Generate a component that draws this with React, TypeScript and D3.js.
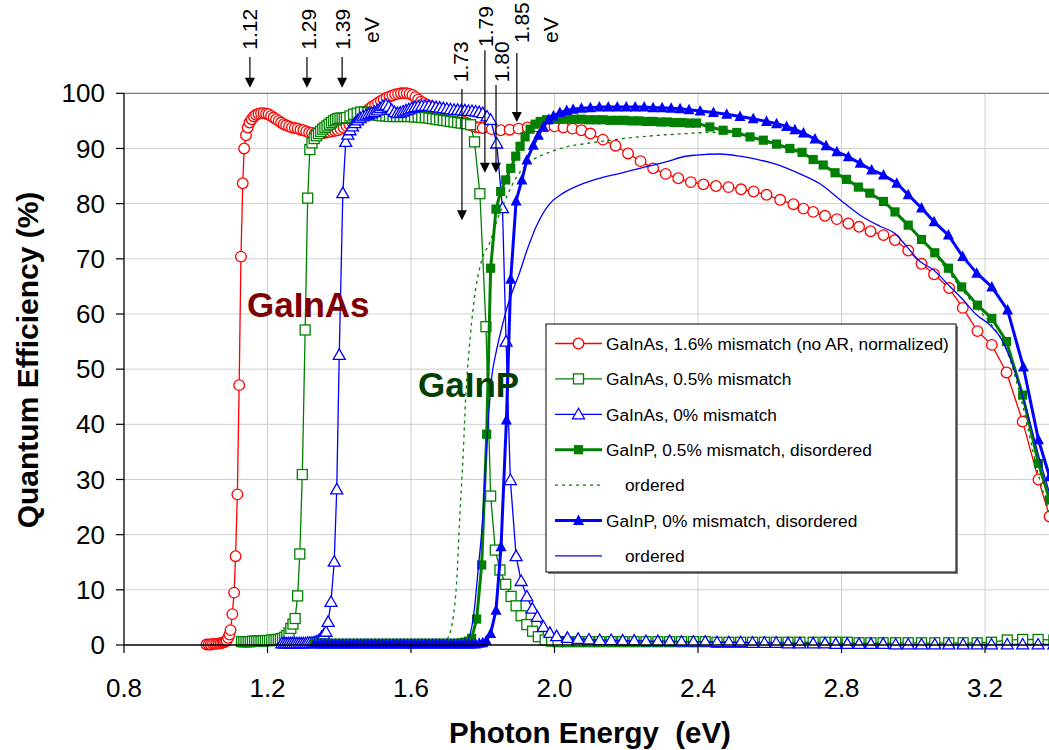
import React from 'react';
import * as d3 from 'd3';

type P = [number, number];

// ---------- DATA ----------
const xTickValues = [0.8, 1.2, 1.6, 2.0, 2.4, 2.8, 3.2];
const xTickLabels = ['0.8', '1.2', '1.6', '2.0', '2.4', '2.8', '3.2'];
const yTickValues = [0, 10, 20, 30, 40, 50, 60, 70, 80, 90, 100];

const gaInAs16: P[] = [
  [1.030,0.1],[1.036,0.1],[1.042,0.1],[1.048,0.2],[1.054,0.2],[1.059,0.2],[1.064,0.3],[1.069,0.3],[1.074,0.4],[1.078,0.5],
  [1.082,0.6],[1.086,0.8],[1.090,1.3],[1.094,1.9],[1.097,2.7],[1.102,5.6],[1.107,9.5],[1.111,16.1],[1.116,27.3],[1.121,47.1],
  [1.126,70.4],[1.131,83.7],[1.135,90.0],[1.140,92.4],[1.145,93.8],[1.150,94.7],[1.156,95.3],[1.162,95.8],[1.168,96.1],[1.175,96.3],
  [1.182,96.4],[1.189,96.4],[1.196,96.3],[1.203,96.2],[1.210,95.9],[1.217,95.6],[1.224,95.3],[1.231,95.0],[1.238,94.7],[1.245,94.4],
  [1.252,94.2],[1.260,94.0],[1.268,93.8],[1.276,93.7],[1.284,93.6],[1.292,93.4],[1.300,93.3],[1.308,93.1],[1.316,92.9],[1.324,92.8],
  [1.332,92.7],[1.340,92.7],[1.348,92.7],[1.356,92.8],[1.364,92.9],[1.372,93.0],[1.380,93.1],[1.388,93.2],[1.396,93.3],[1.404,93.5],
  [1.412,93.8],[1.420,94.1],[1.428,94.4],[1.436,94.8],[1.444,95.1],[1.452,95.5],[1.460,95.9],[1.468,96.4],[1.476,96.8],[1.484,97.2],
  [1.492,97.6],[1.500,97.9],[1.508,98.3],[1.516,98.6],[1.524,98.9],[1.532,99.2],[1.540,99.4],[1.548,99.6],[1.556,99.8],[1.564,99.9],
  [1.572,100.0],[1.580,100.0],[1.588,100.0],[1.596,99.9],[1.604,99.7],[1.612,99.3],[1.620,98.9],[1.628,98.5],[1.636,98.2],[1.644,97.9],
  [1.652,97.7],[1.660,97.5],[1.670,97.3],[1.680,97.1],[1.690,96.9],[1.700,96.6],[1.710,96.3],[1.720,96.0],[1.730,95.6],[1.740,95.2],
  [1.750,94.8],[1.760,94.4],[1.770,94.1],[1.780,93.9],[1.790,93.8],[1.800,93.7],[1.825,93.5],[1.850,93.3],[1.875,93.4],[1.900,93.6],
  [1.925,93.8],[1.950,94.0],[1.975,94.0],[2.000,94.0],[2.025,93.8],[2.050,93.6],[2.075,93.3],[2.100,92.7],[2.135,91.6],[2.170,90.5],
  [2.205,89.1],[2.240,87.7],[2.275,86.4],[2.310,85.4],[2.345,84.6],[2.380,83.9],[2.415,83.5],[2.450,83.2],[2.485,83.0],[2.520,82.6],
  [2.555,82.2],[2.591,81.6],[2.629,80.7],[2.666,79.9],[2.694,79.1],[2.721,78.5],[2.754,77.8],[2.787,77.2],[2.819,76.4],[2.849,75.8],
  [2.881,75.0],[2.917,74.3],[2.949,73.4],[2.986,71.5],[3.023,69.1],[3.058,67.2],[3.100,64.7],[3.138,61.1],[3.179,56.9],[3.219,54.4],
  [3.260,49.4],[3.305,40.5],[3.349,30.0],[3.380,23.3]
];

const gaInAs05: P[] = [
  [1.128,0.6],[1.134,0.6],[1.140,0.6],[1.146,0.6],[1.152,0.6],[1.158,0.7],[1.164,0.7],[1.170,0.7],[1.176,0.7],[1.182,0.7],
  [1.188,0.8],[1.194,0.8],[1.200,0.8],[1.206,0.8],[1.212,0.9],[1.218,0.9],[1.224,1.0],[1.230,1.0],[1.236,1.1],[1.242,1.2],
  [1.248,1.4],[1.254,1.7],[1.260,2.2],[1.265,3.0],[1.271,3.8],[1.277,4.8],[1.284,8.9],[1.290,16.5],[1.297,30.9],[1.305,57.1],
  [1.312,81.0],[1.318,89.8],[1.324,91.0],[1.330,91.8],[1.336,92.3],[1.342,92.7],[1.348,93.1],[1.354,93.5],[1.360,93.8],[1.366,94.1],
  [1.372,94.4],[1.378,94.7],[1.384,95.0],[1.390,95.2],[1.396,95.4],[1.402,95.5],[1.408,95.5],[1.414,95.5],[1.420,95.6],[1.430,95.9],
  [1.440,96.2],[1.450,96.4],[1.460,96.6],[1.470,96.6],[1.480,96.5],[1.490,96.3],[1.500,96.1],[1.510,96.0],[1.520,95.9],[1.530,95.9],
  [1.540,95.8],[1.550,95.8],[1.560,95.8],[1.570,95.8],[1.580,95.8],[1.590,95.8],[1.600,95.8],[1.610,95.7],[1.620,95.7],[1.630,95.6],
  [1.640,95.6],[1.650,95.5],[1.660,95.4],[1.670,95.3],[1.680,95.2],[1.690,95.1],[1.700,95.0],[1.710,94.9],[1.720,94.8],[1.730,94.7],
  [1.740,94.6],[1.752,94.5],[1.766,94.3],[1.777,91.2],[1.792,81.8],[1.809,57.7],[1.822,27.0],[1.835,17.2],[1.848,13.6],[1.864,11.0],
  [1.879,8.8],[1.893,7.1],[1.907,5.3],[1.923,3.7],[1.939,2.5],[1.955,1.5],[1.974,0.9],[1.992,0.7],[2.010,0.6],[2.036,0.6],
  [2.066,0.6],[2.096,0.6],[2.126,0.6],[2.158,0.6],[2.190,0.6],[2.222,0.6],[2.255,0.6],[2.288,0.6],[2.321,0.6],[2.354,0.6],
  [2.387,0.6],[2.420,0.6],[2.453,0.5],[2.486,0.5],[2.519,0.5],[2.552,0.5],[2.585,0.5],[2.618,0.5],[2.651,0.5],[2.684,0.5],
  [2.721,0.5],[2.754,0.5],[2.784,0.5],[2.816,0.5],[2.849,0.4],[2.882,0.4],[2.916,0.4],[2.951,0.4],[2.986,0.4],[3.023,0.4],
  [3.060,0.4],[3.099,0.4],[3.139,0.4],[3.178,0.4],[3.218,0.5],[3.262,0.9],[3.305,1.0],[3.348,1.0],[3.392,0.9]
];

const gaInAs00: P[] = [
  [1.240,0.3],[1.246,0.3],[1.252,0.3],[1.258,0.3],[1.264,0.3],[1.270,0.3],[1.276,0.3],[1.282,0.3],[1.288,0.3],[1.294,0.3],
  [1.300,0.3],[1.306,0.3],[1.312,0.4],[1.318,0.4],[1.324,0.4],[1.330,0.5],[1.336,0.6],[1.342,0.8],[1.347,1.0],[1.351,1.5],
  [1.357,1.9],[1.363,2.4],[1.369,4.2],[1.377,7.8],[1.386,15.1],[1.393,28.2],[1.400,52.6],[1.410,81.9],[1.418,91.2],[1.424,92.5],
  [1.430,93.3],[1.437,94.0],[1.444,94.6],[1.451,95.1],[1.458,95.5],[1.466,95.8],[1.474,96.0],[1.482,96.2],[1.490,96.4],[1.498,96.6],
  [1.506,96.9],[1.514,97.3],[1.522,97.7],[1.530,97.9],[1.538,97.6],[1.546,97.0],[1.554,96.6],[1.562,96.4],[1.570,96.5],[1.578,96.7],
  [1.586,96.9],[1.594,97.1],[1.602,97.3],[1.611,97.5],[1.620,97.6],[1.630,97.7],[1.640,97.7],[1.650,97.7],[1.660,97.6],[1.670,97.5],
  [1.680,97.4],[1.690,97.3],[1.700,97.2],[1.710,97.1],[1.720,97.0],[1.730,97.0],[1.740,96.9],[1.750,96.9],[1.760,96.8],[1.770,96.8],
  [1.780,96.7],[1.790,96.6],[1.800,96.4],[1.812,95.8],[1.822,95.2],[1.839,90.9],[1.855,79.2],[1.865,55.0],[1.877,29.9],[1.893,16.1],
  [1.907,11.6],[1.923,8.8],[1.938,6.6],[1.952,5.1],[1.969,3.3],[1.987,2.2],[2.006,1.6],[2.036,1.3],[2.066,1.1],[2.096,1.0],
  [2.126,0.9],[2.158,0.9],[2.190,0.8],[2.222,0.8],[2.255,0.7],[2.288,0.7],[2.321,0.7],[2.354,0.6],[2.387,0.6],[2.420,0.6],
  [2.453,0.5],[2.486,0.5],[2.519,0.5],[2.552,0.4],[2.585,0.4],[2.618,0.4],[2.651,0.3],[2.684,0.3],[2.721,0.3],[2.754,0.3],
  [2.784,0.2],[2.816,0.2],[2.849,0.2],[2.882,0.2],[2.916,0.2],[2.951,0.1],[2.986,0.1],[3.023,0.1],[3.060,0.1],[3.099,0.1],
  [3.139,0.1],[3.178,0.1],[3.218,0.1],[3.262,0.1],[3.305,0.1],[3.348,0.1],[3.392,0.1]
];

const gaInPDis05: P[] = [
  [1.330,0.3],[1.340,0.3],[1.350,0.3],[1.360,0.3],[1.370,0.3],[1.380,0.3],[1.390,0.3],[1.400,0.3],[1.410,0.3],[1.420,0.3],
  [1.430,0.3],[1.440,0.3],[1.450,0.3],[1.460,0.3],[1.470,0.3],[1.480,0.3],[1.490,0.3],[1.500,0.3],[1.510,0.3],[1.520,0.3],
  [1.530,0.3],[1.540,0.3],[1.550,0.3],[1.560,0.3],[1.570,0.3],[1.580,0.3],[1.590,0.3],[1.600,0.3],[1.610,0.3],[1.620,0.3],
  [1.630,0.3],[1.640,0.3],[1.650,0.3],[1.660,0.3],[1.670,0.3],[1.680,0.3],[1.690,0.3],[1.700,0.3],[1.710,0.3],[1.720,0.3],
  [1.730,0.3],[1.740,0.4],[1.750,0.5],[1.760,0.7],[1.769,1.2],[1.783,4.7],[1.797,14.5],[1.811,38.2],[1.822,68.3],[1.837,79.0],
  [1.850,82.2],[1.864,84.3],[1.878,86.4],[1.892,88.6],[1.904,90.4],[1.918,92.1],[1.932,93.5],[1.946,94.4],[1.960,94.9],[1.978,95.2],
  [1.995,95.3],[2.015,95.3],[2.035,95.3],[2.055,95.3],[2.075,95.3],[2.095,95.2],[2.115,95.2],[2.135,95.2],[2.155,95.1],[2.175,95.1],
  [2.195,95.1],[2.215,95.0],[2.235,95.0],[2.255,94.9],[2.275,94.9],[2.295,94.8],[2.315,94.8],[2.335,94.7],[2.355,94.7],[2.375,94.6],
  [2.396,94.6],[2.433,93.9],[2.470,93.3],[2.508,92.9],[2.545,92.1],[2.582,91.5],[2.619,90.8],[2.656,90.0],[2.690,89.3],[2.721,88.0],
  [2.749,87.0],[2.782,85.6],[2.814,84.4],[2.847,83.0],[2.879,81.9],[2.917,80.4],[2.949,78.5],[2.986,76.1],[3.023,73.5],[3.060,71.1],
  [3.098,68.3],[3.135,64.9],[3.179,61.6],[3.219,59.2],[3.260,55.0],[3.305,45.3],[3.349,32.9],[3.380,26.3]
];

const gaInPOrd05: P[] = [
  [1.650,0.0],[1.690,0.1],[1.700,0.9],[1.710,2.5],[1.718,5.1],[1.727,11.2],[1.736,23.3],[1.746,35.3],[1.752,44.4],[1.762,53.5],
  [1.776,62.5],[1.796,69.5],[1.820,73.0],[1.840,77.0],[1.867,81.3],[1.895,84.9],[1.932,87.6],[1.978,89.1],[2.034,90.3],[2.090,90.9],
  [2.145,91.4],[2.220,92.0],[2.294,92.4],[2.369,92.7],[2.424,92.9],[2.470,92.9],[2.508,92.6],[2.545,92.0],[2.582,91.3],[2.619,90.6],
  [2.656,89.8],[2.694,88.9],[2.731,87.8],[2.782,85.4],[2.847,82.8],[2.917,80.2],[2.986,75.9],[3.060,70.8],[3.135,64.5],[3.179,61.0],
  [3.219,58.0],[3.260,53.5],[3.305,43.5],[3.349,30.8],[3.380,23.9]
];

const gaInPDis00: P[] = [
  [1.330,0.2],[1.340,0.2],[1.350,0.2],[1.360,0.2],[1.370,0.2],[1.380,0.2],[1.390,0.2],[1.400,0.2],[1.410,0.2],[1.420,0.2],
  [1.430,0.2],[1.440,0.2],[1.450,0.2],[1.460,0.2],[1.470,0.2],[1.480,0.2],[1.490,0.2],[1.500,0.2],[1.510,0.2],[1.520,0.2],
  [1.530,0.2],[1.540,0.2],[1.550,0.2],[1.560,0.2],[1.570,0.2],[1.580,0.2],[1.590,0.2],[1.600,0.2],[1.610,0.2],[1.620,0.2],
  [1.630,0.2],[1.640,0.2],[1.650,0.2],[1.660,0.2],[1.670,0.2],[1.680,0.2],[1.690,0.2],[1.700,0.2],[1.710,0.2],[1.720,0.2],
  [1.730,0.2],[1.740,0.2],[1.750,0.2],[1.760,0.2],[1.770,0.2],[1.780,0.2],[1.790,0.3],[1.800,0.4],[1.810,0.8],[1.822,2.1],
  [1.837,6.3],[1.851,17.8],[1.866,40.8],[1.878,66.3],[1.893,80.5],[1.909,84.3],[1.923,87.9],[1.941,90.6],[1.955,92.4],[1.969,93.9],
  [1.983,95.2],[1.997,95.9],[2.015,96.5],[2.034,96.9],[2.052,97.1],[2.075,97.3],[2.100,97.4],[2.125,97.5],[2.150,97.5],[2.175,97.5],
  [2.200,97.5],[2.225,97.5],[2.250,97.5],[2.275,97.4],[2.300,97.4],[2.325,97.3],[2.350,97.2],[2.375,97.0],[2.406,96.8],[2.443,96.5],
  [2.480,96.2],[2.517,95.8],[2.554,95.4],[2.591,94.9],[2.619,94.5],[2.647,94.0],[2.670,93.4],[2.694,92.8],[2.726,91.7],[2.757,90.5],
  [2.787,89.4],[2.819,88.5],[2.852,87.3],[2.884,86.1],[2.917,85.2],[2.954,83.7],[2.986,81.6],[3.023,79.2],[3.058,76.7],[3.098,74.3],
  [3.138,70.4],[3.177,67.4],[3.219,64.9],[3.263,60.7],[3.307,50.4],[3.349,37.2],[3.380,30.5]
];

const gaInPOrd00: P[] = [
  [1.740,0.0],[1.755,0.3],[1.765,2.0],[1.774,5.1],[1.788,14.2],[1.800,23.0],[1.810,35.0],[1.825,48.5],[1.837,53.0],[1.853,57.5],
  [1.867,61.0],[1.885,64.5],[1.900,67.0],[1.923,71.5],[1.950,76.0],[1.987,80.0],[2.024,81.9],[2.071,83.4],[2.127,84.6],[2.183,85.5],
  [2.238,86.4],[2.275,87.0],[2.313,87.6],[2.359,88.5],[2.396,88.8],[2.461,89.0],[2.517,88.6],[2.573,87.9],[2.629,86.9],[2.684,85.4],
  [2.740,83.6],[2.796,80.7],[2.852,77.9],[2.907,75.9],[2.949,74.6],[2.982,72.2],[3.019,69.5],[3.056,68.0],[3.093,65.6],[3.140,62.5],
  [3.177,59.8],[3.214,58.0],[3.247,55.3],[3.279,50.4],[3.316,42.6],[3.353,33.5],[3.380,27.5]
];

const seriesNames = [
  'GaInAs, 1.6% mismatch (no AR, normalized)',
  'GaInAs, 0.5% mismatch',
  'GaInAs, 0% mismatch',
  'GaInP, 0.5% mismatch, disordered',
  'ordered',
  'GaInP, 0% mismatch, disordered',
  'ordered',
];

// band-gap annotations (eV position of arrow, QE of arrow top / tip)
const arrowLabels = ['1.12', '1.29', '1.39', '1.73', '1.79', '1.80', '1.85'];
const arrowX = [1.151, 1.310, 1.408, 1.742, 1.806, 1.837, 1.895];
const arrowTopQE = [106.6, 106.6, 106.6, 100.8, 107.8, 101.5, 107.3];
const arrowTipQE = [101.0, 101.0, 101.0, 77.0, 85.6, 85.6, 94.8];
const labelX = [1.151, 1.313, 1.408, 1.739, 1.808, 1.853, 1.908];
const labelBottomQE = [107.9, 107.9, 107.9, 102.0, 108.4, 102.0, 109.1];
const evLabelX = [1.489, 1.988];

// ---------- LAYOUT ----------
const W = 1049;
const H = 750;
const X0 = 124;
const PX_PER_EV = 358.75;
const x = d3.scaleLinear().domain([0.8, 3.4]).range([X0, X0 + 2.6 * PX_PER_EV]);
const y = d3.scaleLinear().domain([0, 100]).range([645, 93.3]);

const FONT = "'Liberation Sans', Arial, Helvetica, sans-serif";
const RED = '#ff0000';
const GREEN = '#008000';
const BLUE = '#0000ff';

type MarkerKind = 'circle' | 'squareOpen' | 'triOpen' | 'squareFilled' | 'triFilled' | 'none';

function Marker({ kind, cx, cy, color }: { kind: MarkerKind; cx: number; cy: number; color: string }) {
  switch (kind) {
    case 'circle':
      return <circle cx={cx} cy={cy} r={5.3} fill="#fff" stroke={color} strokeWidth={1.3} />;
    case 'squareOpen':
      return <rect x={cx - 5} y={cy - 5} width={10} height={10} fill="#fff" stroke={color} strokeWidth={1.3} />;
    case 'triOpen':
      return (
        <path d={`M${cx},${cy - 6}L${cx + 6},${cy + 4.5}L${cx - 6},${cy + 4.5}Z`} fill="#fff" stroke={color} strokeWidth={1.3} />
      );
    case 'squareFilled':
      return <rect x={cx - 4.6} y={cy - 4.6} width={9.2} height={9.2} fill={color} />;
    case 'triFilled':
      return <path d={`M${cx},${cy - 6}L${cx + 5.5},${cy + 4.5}L${cx - 5.5},${cy + 4.5}Z`} fill={color} />;
    default:
      return null;
  }
}

interface Series {
  name: string;
  data: P[];
  color: string;
  width: number;
  dash?: string;
  marker: MarkerKind;
  smooth: boolean;
}

const series: Series[] = [
  { name: seriesNames[0], data: gaInAs16, color: RED, width: 1.3, marker: 'circle', smooth: false },
  { name: seriesNames[1], data: gaInAs05, color: GREEN, width: 1.3, marker: 'squareOpen', smooth: false },
  { name: seriesNames[2], data: gaInAs00, color: BLUE, width: 1.3, marker: 'triOpen', smooth: false },
  { name: seriesNames[3], data: gaInPDis05, color: GREEN, width: 3, marker: 'squareFilled', smooth: false },
  { name: seriesNames[4], data: gaInPOrd05, color: GREEN, width: 1.3, dash: '3,4', marker: 'none', smooth: true },
  { name: seriesNames[5], data: gaInPDis00, color: BLUE, width: 3, marker: 'triFilled', smooth: false },
  { name: seriesNames[6], data: gaInPOrd00, color: BLUE, width: 1.3, marker: 'none', smooth: true },
];

export default function App() {
  const lineLinear = d3.line<P>().x((d) => x(d[0])).y((d) => y(d[1]));
  const lineSmooth = d3.line<P>().x((d) => x(d[0])).y((d) => y(d[1])).curve(d3.curveMonotoneX);
  const plotRight = x(3.4);

  const legendX = 546;
  const legendY = 324;
  const legendW = 410;
  const legendH = 248;
  const rowY0 = 343.5;
  const rowStep = 35.4;

  return (
    <div style={{ position: 'absolute', left: 0, top: 0 }}>
      <svg width={W} height={H} style={{ display: 'block', background: '#fff' }} fontFamily={FONT}>
        <defs>
          <clipPath id="plotClip">
            <rect x={X0} y={60} width={plotRight - X0} height={600} />
          </clipPath>
        </defs>
        <rect x={0} y={0} width={W} height={H} fill="#fff" />

        {/* grid */}
        {yTickValues.filter((v) => v > 0 && v < 100).map((v) => (
          <line key={'gy' + v} x1={X0} x2={plotRight} y1={y(v)} y2={y(v)} stroke="#cfcfcf" strokeWidth={1} />
        ))}
        {xTickValues.filter((v) => v > 0.8).map((v) => (
          <line key={'gx' + v} x1={x(v)} x2={x(v)} y1={y(0)} y2={y(100)} stroke="#cfcfcf" strokeWidth={1} />
        ))}
        <line x1={X0} x2={plotRight} y1={y(100)} y2={y(100)} stroke="#7f7f7f" strokeWidth={1.2} />

        {/* series */}
        <g clipPath="url(#plotClip)">
          {series.map((s, i) => (
            <g key={'s' + i}>
              <path
                d={(s.smooth ? lineSmooth : lineLinear)(s.data) || ''}
                fill="none"
                stroke={s.color}
                strokeWidth={s.width}
                strokeDasharray={s.dash}
                strokeLinejoin="round"
              />
              {s.marker !== 'none' &&
                s.data.map((d, j) => <Marker key={j} kind={s.marker} cx={x(d[0])} cy={y(d[1])} color={s.color} />)}
            </g>
          ))}
        </g>

        {/* axes */}
        <line x1={X0} x2={X0} y1={y(100)} y2={y(0)} stroke="#000" strokeWidth={1.3} />
        <line x1={X0} x2={plotRight} y1={y(0)} y2={y(0)} stroke="#000" strokeWidth={1.3} />
        {yTickValues.map((v) => (
          <g key={'yt' + v}>
            <line x1={X0 - 8} x2={X0} y1={y(v)} y2={y(v)} stroke="#000" strokeWidth={1.2} />
            <text x={105} y={y(v)} dy="0.35em" textAnchor="end" fontSize={26} fill="#000">
              {v}
            </text>
          </g>
        ))}
        {xTickValues.map((v, i) => (
          <g key={'xt' + v}>
            <line x1={x(v)} x2={x(v)} y1={y(0)} y2={y(0) + 8} stroke="#000" strokeWidth={1.2} />
            <text x={x(v)} y={697} textAnchor="middle" fontSize={26} fill="#000">
              {xTickLabels[i]}
            </text>
          </g>
        ))}

        {/* axis titles */}
        <text
          x={590}
          y={743}
          textAnchor="middle"
          fontSize={29.5}
          fontWeight="bold"
          fill="#000"
          style={{ whiteSpace: 'pre' }}
        >
          {'Photon Energy  (eV)'}
        </text>
        <text
          transform={`translate(38, 360) rotate(-90)`}
          textAnchor="middle"
          fontSize={30}
          fontWeight="bold"
          fill="#000"
        >
          Quantum Efficiency (%)
        </text>

        {/* in-plot labels */}
        <text x={247} y={317} fontSize={35} fontWeight="bold" fill="#800000">
          GaInAs
        </text>
        <text x={418} y={397} fontSize={35} fontWeight="bold" fill="#004000">
          GaInP
        </text>

        {/* band-gap arrows */}
        {arrowLabels.map((lab, i) => {
          const ax = x(arrowX[i]);
          const top = y(arrowTopQE[i]);
          const tip = y(arrowTipQE[i]);
          return (
            <g key={'ar' + i}>
              <line x1={ax} x2={ax} y1={top} y2={tip - 9} stroke="#000" strokeWidth={1.2} />
              <path d={`M${ax - 5},${tip - 10}L${ax + 5},${tip - 10}L${ax},${tip}Z`} fill="#000" />
              <text
                transform={`translate(${x(labelX[i])}, ${y(labelBottomQE[i])}) rotate(-90)`}
                dy="0.36em"
                fontSize={21}
                fill="#000"
              >
                {lab}
              </text>
            </g>
          );
        })}
        {evLabelX.map((ev, i) => (
          <text key={'ev' + i} transform={`translate(${x(ev)}, 43) rotate(-90)`} dy="0.36em" fontSize={21} fill="#000">
            eV
          </text>
        ))}

        {/* legend */}
        <rect x={legendX + 2} y={legendY + 2} width={legendW} height={legendH} fill="#7f7f7f" />
        <rect x={legendX} y={legendY} width={legendW} height={legendH} fill="#fff" stroke="#000" strokeWidth={1} />
        {series.map((s, i) => {
          const ry = rowY0 + i * rowStep;
          const hasMarker = s.marker !== 'none';
          return (
            <g key={'lg' + i}>
              <line x1={555} x2={602} y1={ry} y2={ry} stroke={s.color} strokeWidth={s.width} strokeDasharray={s.dash} />
              {hasMarker && <Marker kind={s.marker} cx={578.5} cy={ry} color={s.color} />}
              <text x={hasMarker ? 606 : 625} y={ry} dy="0.36em" fontSize={17.3} fill="#000">
                {s.name}
              </text>
            </g>
          );
        })}
      </svg>
    </div>
  );
}
